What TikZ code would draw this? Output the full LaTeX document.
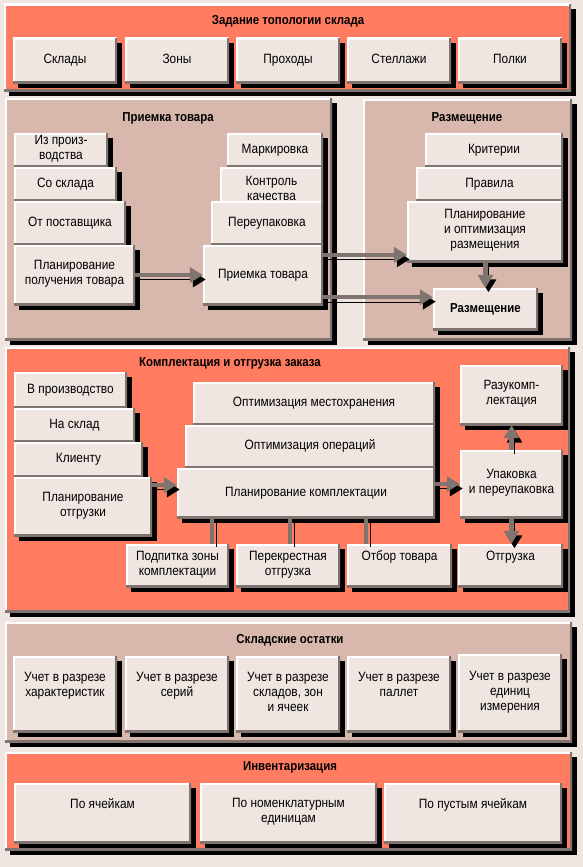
\documentclass[tikz,border=0pt]{standalone}
\usepackage{fontspec}
\usepackage{tikz}
\usetikzlibrary{arrows.meta,positioning,shadows}
\newfontfamily\px{Liberation Sans}[FakeStretch=0.88]
\definecolor{coral}{HTML}{FF7C60}
\definecolor{taupe}{HTML}{D8B8AC}
\definecolor{paper}{HTML}{F0E6E1}
\definecolor{edge}{HTML}{807470}
\tikzset{>=Latex,
  spans/.style args={#1/#2/#3/#4}{at={({(#1+#3)/2},{(#2+#4)/2})},minimum width={#3-#1},minimum height={#4-#2}},
  bevel/.style={path picture={
    \draw[white,line width=4pt] (path picture bounding box.south west) -- (path picture bounding box.north west) -- (path picture bounding box.north east);
    \draw[edge,line width=3.5pt] (path picture bounding box.north east) -- (path picture bounding box.south east) -- (path picture bounding box.south west);}},
  dropped/.style={drop shadow={shadow xshift=5pt,shadow yshift=-5pt,fill=black,opacity=1}},
  panel/.style={bevel,dropped,inner sep=0pt},
  box/.style={fill=paper,bevel,dropped,inner sep=0pt,align=center,font=\px\fontsize{13.5}{15}\selectfont,
    execute at begin node=\strut,execute at end node=\strut},
  paneltitle/.style={font=\px\bfseries\fontsize{13}{15}\selectfont},
  arr/.style={draw=edge,line width=4.5pt,-{Triangle[length=13pt,width=15pt]},
    preaction={draw=black,-{Triangle[length=13pt,width=15pt]},transform canvas={shift={(3pt,-4.5pt)}}}},
  link/.style={draw=edge,line width=4.5pt,preaction={draw=black,transform canvas={shift={(4pt,-3pt)}}}}}

\begin{document}
\begin{tikzpicture}[x=1pt,y=-1pt]
\path[use as bounding box,fill=paper] (0,0) rectangle (583,867);

% panels
\node[panel,fill=coral,spans=4/4/571/91] (topo) {};
\node[panel,fill=taupe,spans=5/98/332/340] (priem) {};
\node[panel,fill=taupe,spans=363/99/572/340] (razm) {};
\node[panel,fill=coral,spans=5/347/570/612] (kompl) {};
\node[panel,fill=taupe,spans=5/622/572/742] (ost) {};
\node[panel,fill=coral,spans=5/752/572/850] (inv) {};

\node[paneltitle] (topoT) at (288,21) {Задание топологии склада};
\node[paneltitle] (priemT) at (168,118) {Приемка товара};
\node[paneltitle] (razmT) at (467,118) {Размещение};
\node[paneltitle] (komplT) at (230,363) {Комплектация и отгрузка заказа};
\node[paneltitle] (ostT) at (290,640) {Складские остатки};
\node[paneltitle] (invT) at (290,767) {Инвентаризация};

% topology
\foreach \x/\t [count=\i] in {13/Склады,125/Зоны,236/Проходы,347/Стеллажи,458/Полки}
  \node[box,spans=\x/38/\x+104/83] (tp\i) {\t};

% receiving
\node[box,spans=14/133/108/167] (izp) {Из произ-\\водства};
\node[box,spans=14/167/117/201] (sos) {Со склада};
\node[box,spans=14/201/126/245] (otp) {От поставщика};
\node[box,spans=14/245/135/305] (ppt) {Планирование\\получения товара};
\node[box,spans=227/133/323/167] (mrk) {Маркировка};
\node[box,spans=220/167/323/215] (kk) {Контроль\\качества};
\node[box,spans=211/201/323/245] (pup) {Переупаковка};
\node[box,spans=203/245/323/305] (prt) {Приемка товара};

% placement
\node[box,spans=425/133/563/167] (krt) {Критерии};
\node[box,spans=416/167/563/201] (prv) {Правила};
\node[box,spans=407/201/563/262] (plr) {Планирование\\и оптимизация\\размещения};
\node[box,spans=433/288/538/330,font=\px\bfseries\fontsize{13}{15}\selectfont] (raz) {Размещение};

% picking and shipping
\node[box,spans=14/372/127/408] (vpr) {В производство};
\node[box,spans=14/408/135/442] (nsk) {На склад};
\node[box,spans=14/442/143/477] (klt) {Клиенту};
\node[box,spans=14/477/152/536] (pot) {Планирование\\отгрузки};
\node[box,spans=193/382/435/425] (omh) {Оптимизация местохранения};
\node[box,spans=185/425/435/468] (oop) {Оптимизация операций};
\node[box,spans=177/468/435/518] (pk) {Планирование комплектации};
\node[box,spans=460/365/563/425] (rk) {Разукомп-\\лектация};
\node[box,spans=460/450/563/518] (up) {Упаковка\\и переупаковка};
\node[box,spans=126/544/229/587] (podp) {Подпитка зоны\\комплектации};
\node[box,spans=236/544/340/587] (per) {Перекрестная\\отгрузка};
\node[box,spans=347/544/452/587] (otb) {Отбор товара\\~};
\node[box,spans=458/544/563/587] (otg) {Отгрузка\\~};

% stock
\foreach \x/\y/\t [count=\i] in {13/656/{Учет в разрезе\\характеристик\\~},125/656/{Учет в разрезе\\серий\\~},
    236/656/{Учет в разрезе\\складов, зон\\и ячеек},347/656/{Учет в разрезе\\паллет\\~},
    458/654/{Учет в разрезе\\единиц\\измерения}}
  \node[box,spans=\x/\y/\x+104/732] (st\i) {\t};

% inventory
\node[box,spans=14/783/191/843] (iv1) {По ячейкам\\~};
\node[box,spans=200/783/377/843] (iv2) {По номенклатурным\\единицам};
\node[box,spans=384/783/562/843] (iv3) {По пустым ячейкам\\~};

% connectors
\coordinate (a1) at ([yshift=-10pt]prt.north east);
\coordinate (a2) at ([yshift=8pt]prt.south east);
\coordinate (a3) at ([yshift=8pt]pk.west);
\draw[arr] (ppt.east) -- (prt.west);
\draw[arr] (a1) -- (a1 -| plr.west);
\draw[arr] (a2) -- (a2 -| raz.west);
\draw[arr] (raz.north |- plr.south) -- (raz.north);
\draw[arr] (a3 -| pot.east) -- (a3);
\draw[arr] (pk.east |- up.west) -- (up.west);
\draw[arr] (up.north) -- (rk.south);
\draw[arr] (up.south) -- (up.south |- otg.north);
\coordinate (l1) at ([xshift=-17pt]podp.north east);
\coordinate (l2) at ([xshift=2pt]per.north);
\coordinate (l3) at ([xshift=19pt]otb.north west);
\foreach \c in {l1,l2,l3}
  \draw[link] (\c |- pk.south) -- (\c);
\end{tikzpicture}
\end{document}
